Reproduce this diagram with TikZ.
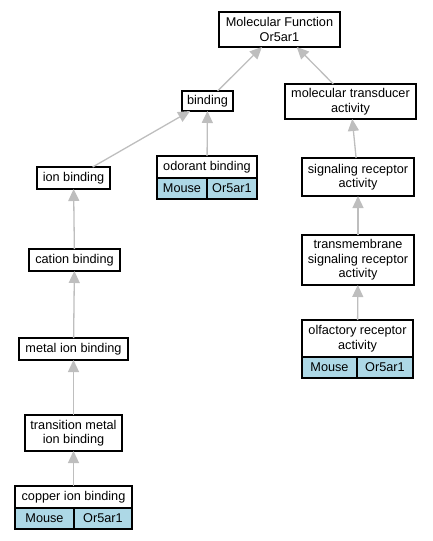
\documentclass[tikz,border=0pt]{standalone}
\usepackage{fontspec}
\setmainfont{Liberation Sans}
\usetikzlibrary{positioning, arrows.meta}
\definecolor{genefill}{HTML}{ADD8E6}
\definecolor{edgegray}{HTML}{BEBEBE}
\tikzset{term/.style={draw, line width=1.2pt, fill=white, align=center, outer sep=0pt,
    inner sep=1pt, font=\fontsize{12.7}{14.5}\selectfont}}
\tikzset{gene/.style={term, fill=genefill, minimum height=21}}
\tikzset{isa/.style={draw=edgegray, line width=1.3pt, -{Triangle[length=12pt,width=11pt]}, edgegray}}

\begin{document}
\begin{tikzpicture}[x=1pt, y=-1pt]
\useasboundingbox (0,0) rectangle (432,541);
% right branch
\node[term, minimum width=121, minimum height=35] at (279.5,29.5)(mf) {Molecular Function\\Or5ar1};
\node[term, minimum width=131, minimum height=35] at (350.5,101.5)(mtd) {molecular transducer\\activity};
\node[term, minimum width=112, minimum height=38] at (358,177)(sig) {signaling receptor\\activity};
\node[term, minimum width=112, minimum height=50] at (358,260)(tm) {transmembrane\\signaling receptor\\activity};
\node[term, minimum width=111, minimum height=37] at (357.5,338.5)(olf) {olfactory receptor\\activity};
\node[gene, minimum width=55, below right=0pt and 0pt of olf.south west](olfsp) {Mouse};
\node[gene, minimum width=56, right=0pt of olfsp](olfgn) {Or5ar1};
% left branch
\node[term, minimum width=51, minimum height=20] at (207.5,101)(bind) {binding};
\node[term, minimum width=100, minimum height=22] at (207,167)(odor) {odorant binding};
\node[gene, minimum width=50, below right=0pt and 0pt of odor.south west](odorsp) {Mouse};
\node[gene, minimum width=50, right=0pt of odorsp](odorgn) {Or5ar1};
\node[term, minimum width=73, minimum height=22] at (73.5,178)(ion) {ion binding};
\node[term, minimum width=91, minimum height=22] at (74.5,260)(cat) {cation binding};
\node[term, minimum width=109, minimum height=22] at (73.5,349)(metal) {metal ion binding};
\node[term, minimum width=97, minimum height=36] at (73.5,433)(trans) {transition metal\\ion binding};
\node[term, minimum width=117, minimum height=22] at (73.5,497)(cop) {copper ion binding};
\node[gene, minimum width=59, below right=0pt and 0pt of cop.south west](copsp) {Mouse};
\node[gene, minimum width=58, right=0pt of copsp](copgn) {Or5ar1};
% is_a edges
\draw[isa] (bind) -- (mf);
\draw[isa] (mtd) -- (mf);
\draw[isa] (ion) -- (bind);
\draw[isa] (odor) -- (bind);
\draw[isa] (sig) -- (mtd);
\draw[isa] (tm) -- (sig);
\draw[isa] (olf) -- (tm);
\draw[isa] (cat) -- (ion);
\draw[isa] (metal) -- (cat);
\draw[isa] (trans) -- (metal);
\draw[isa] (cop) -- (trans);
\end{tikzpicture}
\end{document}
